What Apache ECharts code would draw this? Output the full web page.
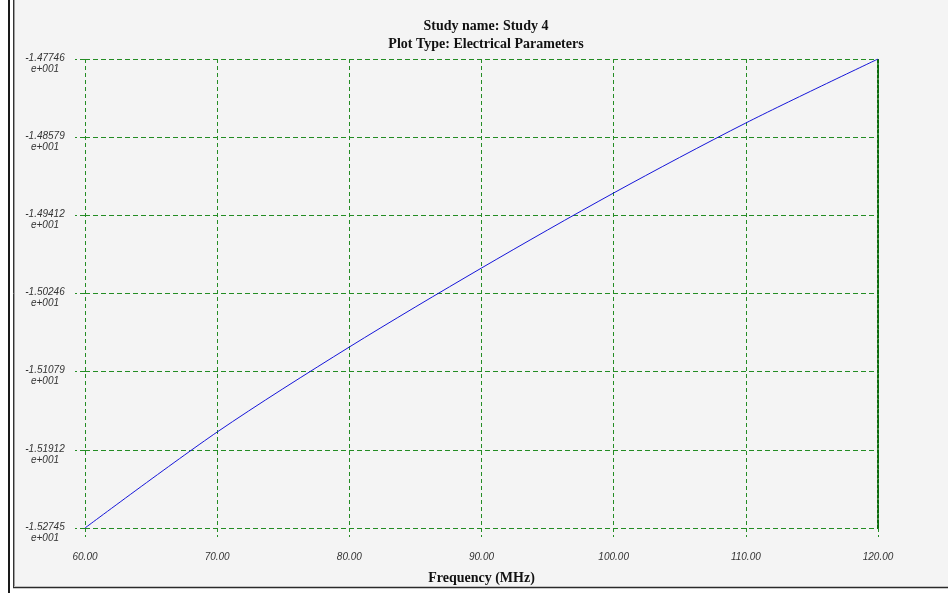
<!DOCTYPE html>
<html>
<head>
<meta charset="utf-8">
<title>Study 4 - Electrical Parameters</title>
<script src="https://cdn.jsdelivr.net/npm/echarts@6/dist/echarts.min.js"></script>
<style>
  html, body { margin: 0; padding: 0; background: #ffffff; }
  #chart { width: 948px; height: 593px; }
</style>
</head>
<body>
<div id="chart"></div>
<script>
// Frequency sweep (MHz) and the computed parameter at each frequency
const freqMHz = [60, 70, 80, 90, 100, 110, 120];
const paramValues = [-15.2745, -15.1722, -15.0816, -14.9974, -14.9174, -14.8428, -14.7746];

// Y grid levels and their printed labels (bottom to top)
const yTickValues = [-15.2745, -15.1912, -15.1079, -15.0246, -14.9412, -14.8579, -14.7746];
const yTickLabels = ['-1.52745', '-1.51912', '-1.51079', '-1.50246', '-1.49412', '-1.48579', '-1.47746'];
const yTickExponent = 'e+001';

const titleLines = ['Study name: Study 4', 'Plot Type: Electrical Parameters'];
const xAxisTitle = 'Frequency (MHz)';

// The y axis runs in grid-step units (0..6); values are mapped linearly onto it
const yLow = yTickValues[0];
const yHigh = yTickValues[yTickValues.length - 1];
const ySteps = yTickValues.length - 1;
const toAxis = v => (v - yLow) / (yHigh - yLow) * ySteps;

const seriesData = freqMHz.map((f, i) => [f, toAxis(paramValues[i])]);

const gridGreen = '#248c24';
const labelFont = 'Liberation Sans';
const serifFont = 'Liberation Serif';
const labelColor = '#333333';

const chart = echarts.init(document.getElementById('chart'), null, { renderer: 'canvas' });

chart.setOption({
  backgroundColor: '#f4f4f4',
  animation: false,
  title: {
    text: titleLines.join('\n'),
    left: 481,
    top: 12,
    textAlign: 'center',
    textStyle: {
      fontFamily: serifFont,
      fontWeight: 'bold',
      fontSize: 14,
      lineHeight: 18,
      color: '#111'
    }
  },
  grid: { left: 85, right: 70, top: 59, bottom: 65, containLabel: false },
  xAxis: {
    type: 'value',
    min: 60,
    max: 120,
    interval: 10,
    name: xAxisTitle,
    nameLocation: 'middle',
    nameGap: 43,
    nameTextStyle: {
      fontFamily: serifFont,
      fontWeight: 'bold',
      fontSize: 14,
      color: '#111'
    },
    axisLine: { show: false },
    axisTick: {
      show: true,
      length: 9,
      lineStyle: { color: gridGreen, type: [4, 3], width: 1 }
    },
    axisLabel: {
      margin: 24,
      fontFamily: labelFont,
      fontStyle: 'italic',
      fontSize: 10,
      color: labelColor,
      formatter: v => v.toFixed(2)
    },
    splitLine: {
      show: true,
      lineStyle: { color: gridGreen, type: [4, 3], width: 1, opacity: 1 }
    }
  },
  yAxis: [
    {
      type: 'value',
      min: 0,
      max: ySteps,
      interval: 1,
      axisLine: { show: false },
      axisTick: {
        show: true,
        length: 10,
        lineStyle: { color: gridGreen, type: [5, 3], width: 1 }
      },
      axisLabel: {
        margin: 40,
        align: 'center',
        verticalAlign: 'middle',
        formatter: v => '{m|' + yTickLabels[Math.round(v)] + '}\n{e|' + yTickExponent + '}',
        rich: {
          m: {
            fontFamily: labelFont, fontStyle: 'italic', fontSize: 10,
            color: labelColor, lineHeight: 20, align: 'center'
          },
          e: {
            fontFamily: labelFont, fontStyle: 'italic', fontSize: 10,
            color: labelColor, lineHeight: 2, align: 'center'
          }
        }
      },
      splitLine: {
        show: true,
        lineStyle: { color: gridGreen, type: [5, 3], width: 1, opacity: 1 }
      }
    },
    {
      // heavier dotted edge on the right side of the plot
      type: 'value',
      position: 'right',
      min: 0,
      max: ySteps,
      interval: 1,
      axisLine: { show: true, lineStyle: { color: '#0a6a0a', type: [3, 2], width: 2 } },
      axisTick: { show: false },
      axisLabel: { show: false },
      splitLine: { show: false }
    }
  ],
  series: [
    {
      type: 'line',
      data: seriesData,
      yAxisIndex: 0,
      smooth: 0.3,
      showSymbol: false,
      lineStyle: { color: '#1515d8', width: 1 }
    }
  ],
  graphic: [
    // window frame on the left and bottom
    { type: 'rect', shape: { x: 0, y: 0, width: 13, height: 593 }, style: { fill: '#ffffff' }, silent: true },
    { type: 'rect', shape: { x: 13, y: 588, width: 935, height: 5 }, style: { fill: '#ffffff' }, silent: true },
    { type: 'line', shape: { x1: 9, y1: 0, x2: 9, y2: 593 }, style: { stroke: '#1a1a1a', lineWidth: 2 }, silent: true },
    { type: 'line', shape: { x1: 13.5, y1: 0, x2: 13.5, y2: 587 }, style: { stroke: '#333333', lineWidth: 1 }, silent: true },
    { type: 'line', shape: { x1: 14.5, y1: 0, x2: 14.5, y2: 586 }, style: { stroke: '#a0a0a0', lineWidth: 1 }, silent: true },
    { type: 'line', shape: { x1: 13, y1: 587.5, x2: 948, y2: 587.5 }, style: { stroke: '#2a2a2a', lineWidth: 1.5 }, silent: true }
  ]
});
</script>
</body>
</html>
